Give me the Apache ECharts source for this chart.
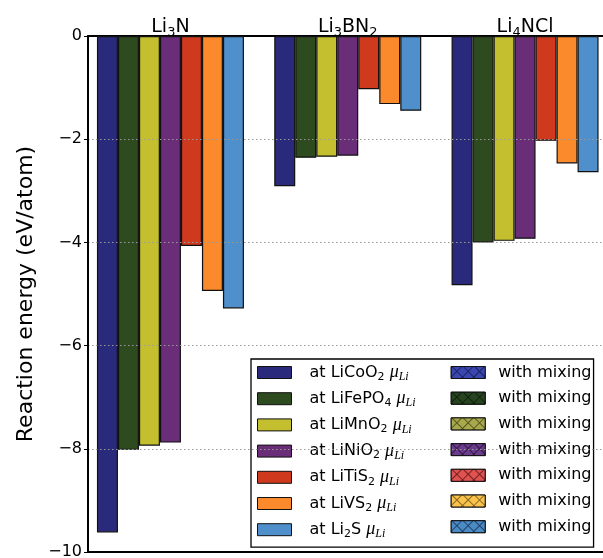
<!DOCTYPE html>
<html>
<head>
<meta charset="utf-8">
<script src="https://cdn.jsdelivr.net/npm/echarts@6/dist/echarts.min.js"></script>
<style>
  html, body { margin: 0; padding: 0; background: #fff; }
  #chart { width: 603px; height: 558px; }
</style>
</head>
<body>
<div id="chart"></div>
<script>
// Reaction energies (eV/atom) of each electrolyte compound against each electrode's Li chemical potential
const compounds = ['Li3N', 'Li3BN2', 'Li4NCl'];
const electrodes = ['LiCoO2', 'LiFePO4', 'LiMnO2', 'LiNiO2', 'LiTiS2', 'LiVS2', 'Li2S'];

const energyLiCoO2  = [-9.62, -2.91, -4.83];
const energyLiFePO4 = [-8.02, -2.36, -4.00];
const energyLiMnO2  = [-7.94, -2.34, -3.97];
const energyLiNiO2  = [-7.88, -2.32, -3.93];
const energyLiTiS2  = [-4.07, -1.03, -2.03];
const energyLiVS2   = [-4.94, -1.32, -2.47];
const energyLi2S    = [-5.28, -1.45, -2.64];

// "with mixing" entries have no bars of their own here
const mixingValues = [[], [], [], [], [], [], []];

const yTicks = [0, -2, -4, -6, -8, -10];

const energies = [energyLiCoO2, energyLiFePO4, energyLiMnO2, energyLiNiO2,
                  energyLiTiS2, energyLiVS2, energyLi2S];

const barColors = ['#2a2a7c', '#2e4b1f', '#c3bf2f', '#6a2d78', '#cf3a1f', '#fa8a2b', '#4f8fcb'];
const mixColors = ['#3b47b0', '#274420', '#a8a84c', '#6a3a8c', '#e05250', '#fbc24c', '#4b8bc4'];
const mixLines  = ['#1b2260', '#10220c', '#5a5a20', '#301840', '#702020', '#8a6a20', '#20406a'];

const FONT = 'DejaVu Sans';

// turn digits into subscript rich-text tokens
function subRich(str) {
  return str.replace(/(\d+)/g, '{s|$1}');
}

const mixName = i => 'with mixing · ' + electrodes[i];

const series = [];
energies.forEach((vals, i) => {
  series.push({
    type: 'bar',
    name: electrodes[i],
    xAxisIndex: 0,
    yAxisIndex: 0,
    data: vals.map((v, k) => [k, v]),
    barWidth: 21,
    barGap: '0%',
    itemStyle: { color: barColors[i], borderColor: '#111', borderWidth: 1.2 },
    emphasis: { disabled: true }
  });
});
mixingValues.forEach((vals, i) => {
  series.push({
    type: 'bar',
    name: mixName(i),
    xAxisIndex: 1,
    yAxisIndex: 0,
    data: vals,
    barWidth: 21,
    barGap: '0%',
    itemStyle: { color: mixColors[i], borderColor: '#111', borderWidth: 1 }
  });
});

const legendRich = {
  s:  { fontFamily: FONT, fontSize: 11, padding: [9, 0, 0, 0], color: '#000' },
  mu: { fontFamily: 'Liberation Serif', fontStyle: 'italic', fontSize: 18, color: '#000' },
  li: { fontFamily: 'Liberation Serif', fontStyle: 'italic', fontSize: 12, padding: [9, 0, 0, 0], color: '#000' }
};

const chart = echarts.init(document.getElementById('chart'), null, { renderer: 'canvas' });

chart.setOption({
  animation: false,
  backgroundColor: '#fff',
  grid: {
    left: 88, top: 36, width: 519.5, height: 516,
    containLabel: false, outerBoundsMode: 'none'
  },
  xAxis: [
    {
      type: 'value', position: 'bottom', min: -0.465, max: 2.465,
      axisLine: { show: true, onZero: false, lineStyle: { color: '#000', width: 2 } },
      axisTick: { show: false }, axisLabel: { show: false }, splitLine: { show: false }
    },
    {
      type: 'value', position: 'top', min: -0.465, max: 2.465,
      axisLine: { show: true, onZero: false, lineStyle: { color: '#000', width: 2 } },
      axisTick: { show: false },
      splitLine: { show: false },
      axisLabel: {
        show: true,
        customValues: [0, 1, 2],
        margin: -3,
        fontFamily: FONT, fontSize: 19, color: '#000',
        formatter: v => subRich(compounds[Math.round(v)]),
        rich: { s: { fontFamily: FONT, fontSize: 13, padding: [10, 0, 0, 0], color: '#000' } }
      }
    }
  ],
  yAxis: {
    type: 'value',
    min: yTicks[yTicks.length - 1], max: yTicks[0], interval: 2,
    z: 5,
    name: 'Reaction energy (eV/atom)',
    nameLocation: 'middle',
    nameGap: 51,
    nameTextStyle: { fontFamily: FONT, fontSize: 22, color: '#000' },
    axisLine: { show: true, onZero: false, lineStyle: { color: '#000', width: 2 } },
    axisTick: { show: true, length: 4, lineStyle: { color: '#000', width: 1 } },
    axisLabel: {
      margin: 6, fontFamily: FONT, fontSize: 16, color: '#000',
      formatter: v => (v < 0 ? '\u2212' + Math.abs(v) : String(v))
    },
    splitLine: {
      show: true, showMinLine: false, showMaxLine: false,
      lineStyle: { color: '#999', width: 1, type: [1.5, 2.5] }
    }
  },
  legend: [
    {
      orient: 'vertical',
      left: 251, top: 359,
      padding: [3.5, 178, 7, 6],
      borderColor: '#000', borderWidth: 1.3, borderRadius: 0,
      backgroundColor: '#fff',
      itemWidth: 34, itemHeight: 12, itemGap: 5.7,
      selectedMode: false,
      icon: 'rect',
      data: electrodes.map((e, i) => ({
        name: e,
        itemStyle: { color: barColors[i], borderColor: '#111', borderWidth: 1 }
      })),
      formatter: name => 'at ' + subRich(name) + ' {mu|μ}{li|Li}',
      textStyle: {
        fontFamily: FONT, fontSize: 16, color: '#000', lineHeight: 20,
        padding: [0, 0, 0, 13],
        rich: legendRich
      }
    },
    {
      orient: 'vertical',
      left: 450.7, top: 362.5,
      padding: 0,
      itemWidth: 34, itemHeight: 12, itemGap: 5.7,
      selectedMode: false,
      icon: 'rect',
      data: electrodes.map((e, i) => ({
        name: mixName(i),
        itemStyle: {
          color: mixColors[i], borderColor: '#111', borderWidth: 1,
          decal: {
            symbol: 'rect', symbolSize: 1,
            color: mixColors[i], backgroundColor: mixLines[i],
            dashArrayX: [7, 1], dashArrayY: [7, 1],
            rotation: Math.PI / 4
          }
        }
      })),
      formatter: () => 'with mixing',
      textStyle: {
        fontFamily: FONT, fontSize: 16, color: '#000', lineHeight: 20,
        padding: [0, 0, 0, 8]
      }
    }
  ],
  series: series
});
</script>
</body>
</html>
